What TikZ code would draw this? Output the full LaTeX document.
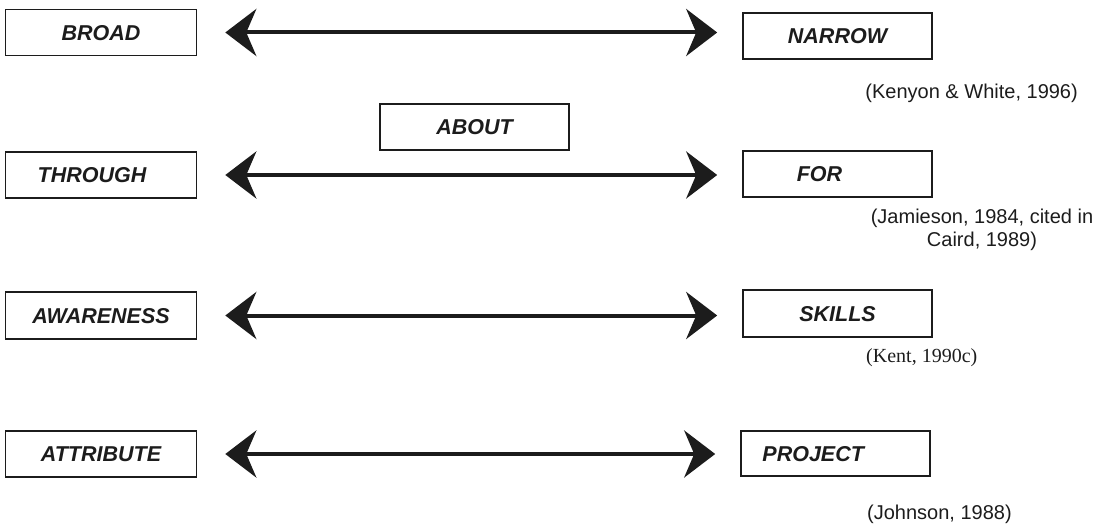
\documentclass[tikz,border=0pt]{standalone}
\usepackage{fontspec}
\setmainfont{Liberation Sans}
\newfontfamily\timesf{Liberation Serif}
\usetikzlibrary{arrows.meta}
\definecolor{ink}{HTML}{1C1C1C}
\begin{document}
\begin{tikzpicture}[x=1pt,y=-1pt,
  box/.style={draw=ink,line width=1.6pt,inner sep=0pt,minimum width=191pt,minimum height=46pt,
    font=\fontsize{21.5}{25}\selectfont\bfseries\itshape,text=ink,text height=15.4pt,text depth=0pt},
  lbl/.style={inner sep=0pt,font=\fontsize{21.5}{25}\selectfont\bfseries\itshape,text=ink,text height=15.4pt,text depth=0pt},
  cite/.style={inner sep=0pt,font=\fontsize{20}{23}\selectfont,text=ink},
  dbl/.style={line width=4pt,draw=ink,{Stealth[length=31pt,width=47pt,inset=10pt]}-{Stealth[length=31pt,width=47pt,inset=10pt]},shorten <=28pt,shorten >=25pt}]
\useasboundingbox (0,0) rectangle (1100,532);
% row 1
\node[box] (broad) at (101,32.5) {BROAD};
\node[box,minimum width=189pt] (narrow) at (837.5,36) {NARROW};
\node[cite,anchor=east] (c1) at (1078,93) {(Kenyon \& White, 1996)};
% row 2
\node[box,minimum width=189pt] (about) at (474.5,127) {ABOUT};
\node[box] (through) at (101,175) {};
\node[lbl] (throughT) at ([xshift=-9pt]through.center) {THROUGH};
\node[box,minimum width=189pt] (for) at (837.5,174) {};
\node[lbl] (forT) at ([xshift=-18pt]for.center) {FOR};
\node[cite,align=center] (c2) at (982,230) {(Jamieson, 1984, cited in\\Caird, 1989)};
% row 3
\node[box,minimum height=47pt] (aware) at (101,315.5) {AWARENESS};
\node[box,minimum width=189pt,minimum height=47pt] (skills) at (837.5,313.5) {SKILLS};
\node[cite,anchor=west,font=\fontsize{20}{24}\selectfont\timesf] (c3) at (866,358) {(Kent, 1990c)};
% row 4
\node[box] (attr) at (101,454) {ATTRIBUTE};
\node[box,minimum width=189pt,minimum height=45pt] (project) at (835.5,453.5) {};
\node[lbl,anchor=west] (projectT) at ([xshift=22pt]project.west) {PROJECT};
\node[cite,anchor=west] (c4) at (867,514) {(Johnson, 1988)};
% arrows
\draw[dbl] (broad.east) -- (broad.east -| narrow.west);
\draw[dbl] (through.east) -- (through.east -| for.west);
\draw[dbl] (aware.east) -- (aware.east -| skills.west);
\draw[dbl] (attr.east) -- (attr.east -| project.west);
\end{tikzpicture}
\end{document}
